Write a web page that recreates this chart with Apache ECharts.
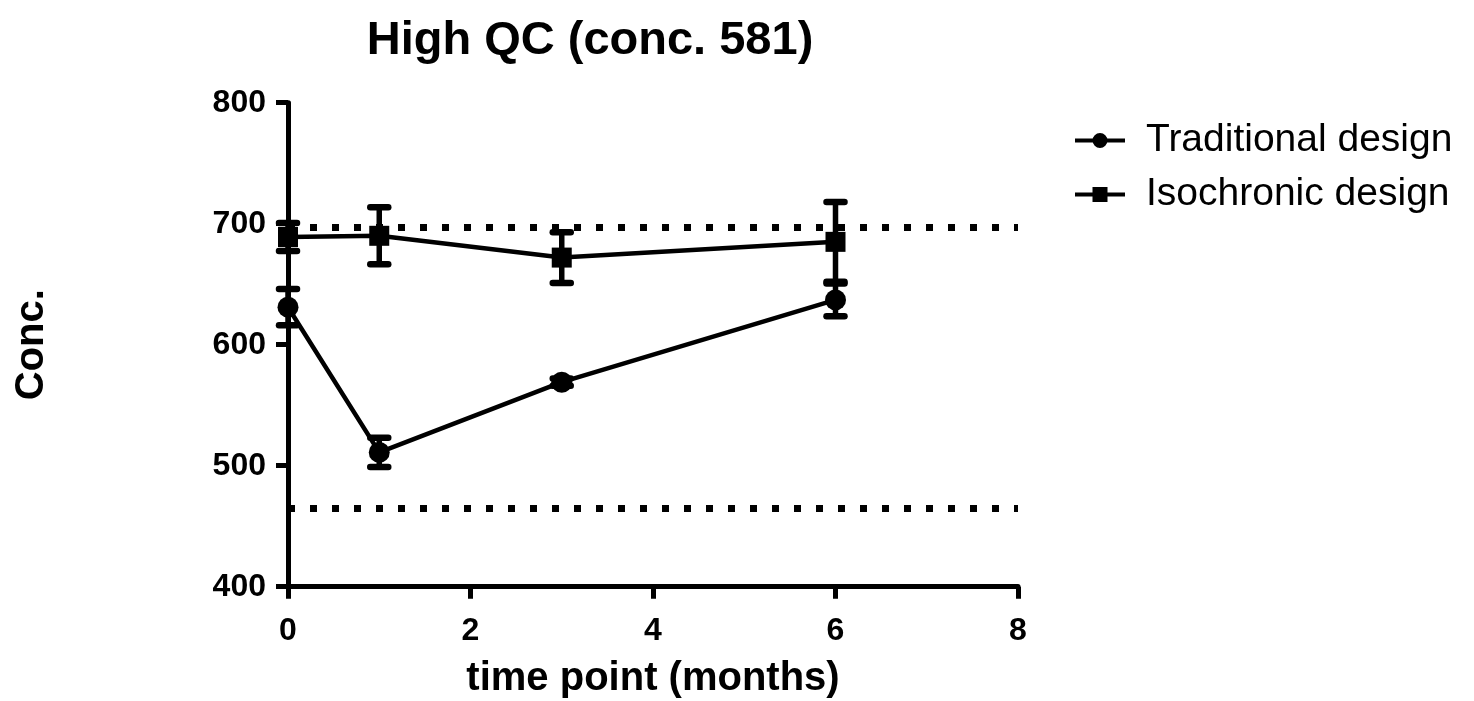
<!DOCTYPE html>
<html lang="en">
  <head>
    <meta charset="UTF-8" />
    <title>High QC</title>
    <script src="https://cdn.jsdelivr.net/npm/echarts@6/dist/echarts.min.js"></script>
    <style>
      html, body { margin: 0; padding: 0; background: #fff; }
      #chart { width: 1474px; height: 701px; }
    </style>
  </head>
  <body>
    <div id="chart"></div>
  <script>
    // data
    const months = [0, 1, 3, 6];
    const traditional = [631, 511, 569, 637];
    const traditionalErr = [15, 12, 3, 13.5];
    const isochronic = [689, 690, 672, 685];
    const isochronicErr = [11.5, 23.5, 21, 33];
    const nominal = 581;
    const limits = [nominal * 1.2, nominal * 0.8];

    const font = "Liberation Sans, Arial, sans-serif";
    const myChart = echarts.init(document.getElementById("chart"));

    function pairs(xs, ys) {
      return xs.map((x, i) => [x, ys[i]]);
    }

    function errRows(xs, ys, errs) {
      return xs.map((x, i) => [x, ys[i] - errs[i], ys[i] + errs[i]]);
    }

    // whiskers with caps
    function renderErr(params, api) {
      const x = api.value(0);
      const lo = api.coord([x, api.value(1)]);
      const hi = api.coord([x, api.value(2)]);
      const half = 9;
      const style = { stroke: "#000", lineWidth: 6.5, lineCap: "round" };
      return {
        type: "group",
        children: [
          { type: "line", shape: { x1: hi[0], y1: hi[1], x2: lo[0], y2: lo[1] }, style: { stroke: "#000", lineWidth: 5.5 } },
          { type: "line", shape: { x1: hi[0] - half, y1: hi[1], x2: hi[0] + half, y2: hi[1] }, style: style },
          { type: "line", shape: { x1: lo[0] - half, y1: lo[1], x2: lo[0] + half, y2: lo[1] }, style: style }
        ]
      };
    }

    // legend icons: bar with a marker in the middle
    const circleIcon = "path://M0,5.5H50V9.5H0Z M17.5,7.5A7.5,7.5 0 1 1 32.5,7.5A7.5,7.5 0 1 1 17.5,7.5Z";
    const squareIcon = "path://M0,5.5H50V9.5H0Z M17.5,0H32.5V15H17.5Z";

    const option = {
      backgroundColor: "#fff",
      animation: false,
      title: {
        text: "High QC (conc. 581)",
        left: 585,
        top: 13,
        textAlign: "center",
        textStyle: { fontFamily: font, fontSize: 47, fontWeight: "bold", color: "#000" }
      },
      legend: {
        left: 1070,
        top: 116,
        orient: "vertical",
        itemWidth: 50,
        itemHeight: 15,
        itemGap: 15,
        data: [
          { name: "Traditional design", icon: circleIcon },
          { name: "Isochronic design", icon: squareIcon }
        ],
        itemStyle: { color: "#000", borderWidth: 0 },
        textStyle: { fontFamily: font, fontSize: 39, color: "#000", padding: [0, 0, 0, 16] }
      },
      grid: { left: 288, right: 456, top: 102.7, bottom: 114.3, outerBoundsMode: "none", containLabel: false },
      xAxis: {
        type: "value",
        min: 0,
        max: 8,
        interval: 2,
        name: "time point (months)",
        nameLocation: "middle",
        nameGap: 72,
        nameTextStyle: { fontFamily: font, fontSize: 40, fontWeight: "bold", color: "#000" },
        axisLine: { lineStyle: { color: "#000", width: 5 } },
        axisTick: { length: 12, lineStyle: { color: "#000", width: 5 } },
        axisLabel: { margin: 28, fontFamily: font, fontSize: 32, fontWeight: "bold", color: "#000" },
        splitLine: { show: false }
      },
      yAxis: {
        type: "value",
        min: 400,
        max: 800,
        interval: 100,
        name: "Conc.",
        nameLocation: "middle",
        nameRotate: 90,
        nameGap: 236,
        nameTextStyle: { fontFamily: font, fontSize: 40, fontWeight: "bold", color: "#000" },
        axisLine: { show: true, lineStyle: { color: "#000", width: 5 } },
        axisTick: { show: true, length: 12, lineStyle: { color: "#000", width: 5 } },
        axisLabel: { margin: 22, fontFamily: font, fontSize: 32, fontWeight: "bold", color: "#000" },
        splitLine: { show: false }
      },
      series: [
        {
          name: "Traditional design",
          type: "line",
          data: pairs(months, traditional),
          symbol: "circle",
          symbolSize: 21,
          clip: false,
          z: 5,
          itemStyle: { color: "#000" },
          lineStyle: { color: "#000", width: 4.5 }
        },
        {
          name: "Isochronic design",
          type: "line",
          data: pairs(months, isochronic),
          symbol: "rect",
          symbolSize: 20,
          clip: false,
          z: 5,
          itemStyle: { color: "#000" },
          lineStyle: { color: "#000", width: 4.5 },
          markLine: {
            silent: true,
            symbol: "none",
            label: { show: false },
            lineStyle: { color: "#000", width: 7, type: [7, 15] },
            data: limits.map((v) => ({ yAxis: v }))
          }
        },
        {
          type: "custom",
          renderItem: renderErr,
          data: errRows(months, traditional, traditionalErr),
          clip: false,
          z: 4
        },
        {
          type: "custom",
          renderItem: renderErr,
          data: errRows(months, isochronic, isochronicErr),
          clip: false,
          z: 4
        }
      ]
    };
    myChart.setOption(option);
  </script>
  </body>
</html>
